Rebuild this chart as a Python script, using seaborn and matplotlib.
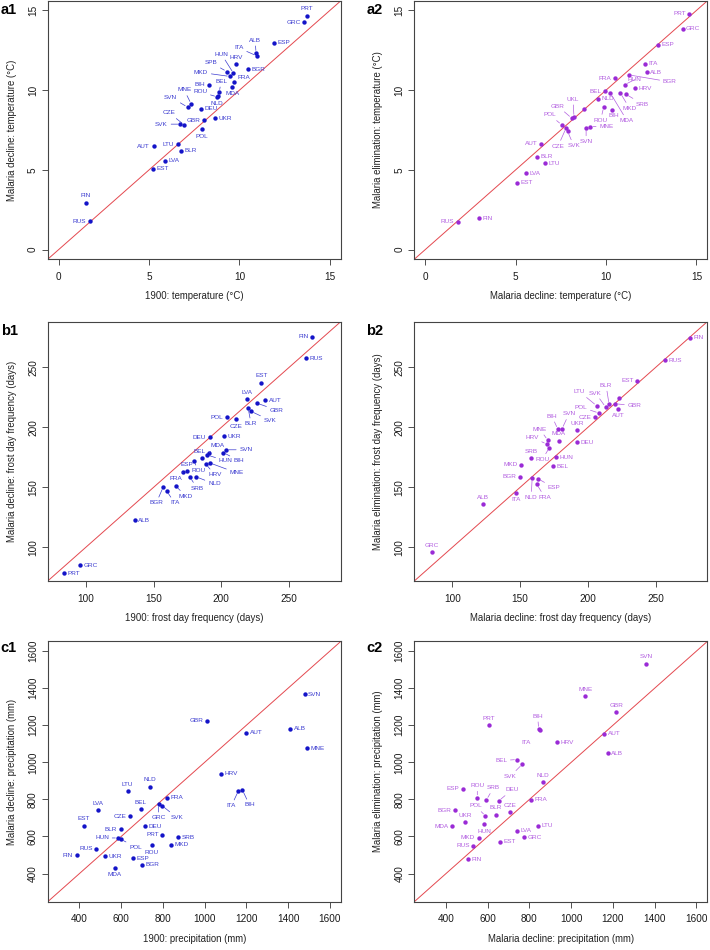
import numpy as np
import pandas as pd
import matplotlib
matplotlib.use("Agg")
import matplotlib.pyplot as plt
import seaborn as sns

# ---------------- data ----------------
# a1: 1900 vs malaria decline, temperature (°C)
a1_codes = ["PRT", "GRC", "ALB", "ITA", "ESP", "HRV", "BGR", "SPB", "HUN", "MKD", "FRA",
            "MDA", "BIH", "BEL", "ROU", "NLD", "MNE", "SVN", "DEU", "CZE", "SVK", "GBR",
            "UKR", "POL", "LTU", "AUT", "BLR", "LVA", "EST", "FIN", "RUS"]
a1_x = [13.72, 13.57, 10.92, 10.96, 11.90, 9.80, 10.46, 9.30, 9.67, 9.48, 9.70,
        9.61, 8.31, 8.88, 8.77, 8.82, 7.33, 7.13, 7.86, 6.94, 6.74, 8.05,
        8.66, 7.94, 6.59, 5.25, 6.78, 5.86, 5.21, 1.51, 1.73]
a1_y = [14.66, 14.26, 12.32, 12.15, 12.96, 11.63, 11.32, 11.17, 11.06, 10.86, 10.50,
        10.21, 10.35, 9.87, 9.58, 9.62, 9.14, 8.94, 8.85, 7.83, 7.87, 8.10,
        8.23, 7.56, 6.62, 6.47, 6.20, 5.57, 5.07, 2.94, 1.77]

# a2: malaria decline vs malaria elimination, temperature (°C)
a2_codes = ["PRT", "GRC", "ESP", "ITA", "ALB", "BGR", "HUN", "FRA", "HRV", "BEL", "MDA",
            "NLD", "MKD", "SRB", "ROU", "BIH", "DEU", "UKL", "GBR", "POL", "CZE", "SVK",
            "SVN", "MNE", "AUT", "BLR", "LTU", "LVA", "EST", "FIN", "RUS"]
a2_x = [14.60, 14.23, 12.90, 12.15, 12.26, 11.26, 11.04, 10.47, 11.62, 9.93, 10.22,
        9.58, 10.80, 11.09, 9.87, 10.35, 8.81, 8.23, 8.10, 7.55, 7.79, 7.88,
        8.90, 9.14, 6.42, 6.19, 6.64, 5.58, 5.09, 2.96, 1.79]
a2_y = [14.78, 13.86, 12.84, 11.65, 11.13, 10.96, 10.35, 10.75, 10.13, 9.92, 9.85,
        9.46, 9.81, 9.75, 8.94, 8.77, 8.83, 8.31, 8.25, 7.83, 7.62, 7.41,
        7.66, 7.72, 6.64, 5.82, 5.43, 4.78, 4.20, 1.96, 1.75]

# b1: 1900 vs malaria decline, frost day frequency (days)
b1_codes = ["FIN", "RUS", "EST", "LVA", "AUT", "GBR", "BLR", "SVK", "POL", "CZE", "DEU",
            "UKR", "MDA", "SVN", "BIH", "HUN", "BEL", "ROU", "ESP", "FRA", "HRV", "MNE",
            "NLD", "SRB", "MKD", "BGR", "ITA", "ALB", "GRC", "PRT"]
b1_x = [267.1, 262.2, 229.5, 218.9, 232.2, 226.0, 219.7, 221.9, 204.2, 210.8, 191.4,
        202.2, 191.0, 203.4, 201.5, 189.2, 185.5, 179.9, 174.4, 171.5, 188.5, 191.4,
        181.6, 176.9, 166.6, 157.2, 159.7, 136.1, 95.8, 84.3]
b1_y = [275.6, 257.5, 237.2, 223.3, 222.7, 220.2, 216.3, 213.3, 208.3, 206.9, 191.8,
        192.4, 179.0, 181.3, 179.0, 177.1, 174.3, 172.1, 163.5, 162.6, 169.6, 170.4,
        158.7, 158.5, 150.9, 150.4, 147.0, 122.8, 85.3, 78.6]

# b2: malaria decline vs malaria elimination, frost day frequency (days)
b2_codes = ["FIN", "RUS", "EST", "LVA", "GBR", "AUT", "BLR", "SVK", "LTU", "POL", "CZE",
            "BIH", "SVN", "UKR", "MNE", "MDA", "HRV", "ROU", "DEU", "SRB", "HUN", "BEL",
            "MKD", "BGR", "NLD", "ESP", "FRA", "ITA", "ALB", "GRC"]
b2_x = [275.1, 257.0, 236.4, 223.0, 219.6, 222.5, 215.6, 213.0, 206.4, 208.1, 205.4,
        177.8, 180.9, 191.9, 170.4, 178.5, 169.7, 171.6, 191.7, 158.2, 176.5, 174.1,
        150.9, 150.1, 158.9, 163.3, 162.3, 146.9, 122.7, 84.8]
b2_y = [274.5, 255.9, 238.9, 224.1, 219.7, 215.5, 219.1, 216.9, 218.0, 211.9, 208.3,
        198.5, 198.8, 197.4, 189.3, 188.8, 186.0, 183.2, 187.4, 174.3, 174.9, 167.6,
        168.7, 159.0, 157.6, 157.1, 152.6, 145.4, 135.9, 95.8]

# c1: 1900 vs malaria decline, precipitation (mm)
c1_codes = ["SVN", "GBR", "AUT", "ALB", "MNE", "HRV", "ITA", "BIH", "NLD", "LTU", "FRA",
            "GRC", "SVK", "BEL", "LVA", "CZE", "EST", "DEU", "BLR", "PRT", "SRB", "HUN",
            "POL", "ROU", "MKD", "RUS", "FIN", "UKR", "ESP", "BGR", "MDA"]
c1_x = [1479, 1013, 1199, 1409, 1490, 1080, 1162, 1181, 739, 631, 820,
        779, 795, 693, 489, 642, 422, 712, 597, 798, 873, 585,
        597, 747, 841, 480, 387, 523, 656, 698, 569]
c1_y = [1368, 1224, 1160, 1180, 1075, 938, 847, 851, 869, 845, 809,
        776, 767, 746, 742, 708, 659, 655, 639, 610, 597, 592,
        586, 554, 556, 534, 500, 494, 483, 447, 431]

# c2: malaria decline vs malaria elimination, precipitation (mm)
c2_codes = ["SVN", "MNE", "GBR", "PRT", "BIH", "ITA", "AUT", "HRV", "ALB", "BEL", "SVK",
            "NLD", "ESP", "ROU", "SRB", "DEU", "FRA", "BGR", "CZE", "POL", "BLR", "UKR",
            "MDA", "HUN", "LTU", "LVA", "GRC", "MKD", "EST", "RUS", "FIN"]
c2_x = [1360, 1068, 1215, 607, 844, 848, 1158, 932, 1174, 741, 765,
        866, 481, 550, 594, 653, 807, 444, 708, 589, 640, 492,
        428, 583, 842, 739, 776, 556, 657, 531, 504]
c2_y = [1531, 1356, 1271, 1201, 1179, 1176, 1155, 1108, 1049, 1015, 989,
        893, 857, 810, 798, 792, 798, 742, 731, 711, 718, 677,
        655, 667, 657, 631, 595, 593, 572, 550, 478]

# label spots: "R" right, "L" left, "A" above, "B" below, "-" none,
# or (dx, dy, leader line) offset in pixels
a1_spots = {"PRT": "A", "GRC": "L", "ALB": (-1, 13, True), "ITA": (-18, 8, True), "HRV": "A",
            "HUN": (-12, 19, True), "SPB": (-16, 9, True), "MKD": (-29, 4, True),
            "FRA": (10, 5, False), "MDA": "B", "BIH": "L", "BEL": (2, 11, True),
            "ROU": (-17, 5, True), "NLD": (-1, -7, False), "MNE": (-7, 14, True),
            "SVN": (-17, 10, True), "CZE": (-15, 12, True), "SVK": (-19, 0, True),
            "GBR": "L", "POL": "B", "LTU": "L", "AUT": "L", "FIN": "A", "RUS": "L"}
a2_spots = {"PRT": "L", "BGR": (41, -7, True), "HUN": (10, 5, True), "FRA": "L", "BEL": "L",
            "MDA": (17, -28, True), "MKD": (9, -15, True), "SRB": (17, -10, True),
            "ROU": (-3, -13, True), "BIH": (1, -6, False), "DEU": "-", "UKL": (-1, 18, True),
            "GBR": (-14, 12, True), "POL": (-12, 10, True), "CZE": (-8, -18, True),
            "SVK": (6, -14, True), "SVN": (0, -14, True), "MNE": (16, 0, True),
            "AUT": "L", "RUS": "L"}
b1_spots = {"FIN": "L", "EST": "A", "LVA": "A", "GBR": (20, -7, True), "BLR": (3, -16, True),
            "SVK": (19, -9, True), "POL": "L", "CZE": "B", "DEU": "L", "MDA": (8, 7, True),
            "SVN": (20, 0, True), "BIH": (15, -8, True), "HUN": (19, -6, True),
            "BEL": (-2, 7, False), "ESP": "A", "ROU": (4, -10, True), "HRV": (9, -11, True),
            "MNE": (27, -10, True), "FRA": (-7, -6, True), "NLD": (18, -7, True),
            "SRB": (7, -11, True), "MKD": (10, -10, True), "BGR": (-7, -16, True),
            "ITA": (8, -12, True)}
b2_spots = {"EST": "L", "LVA": "-", "LTU": (-17, 14, True), "SVK": (-10, 14, True),
            "BLR": (-3, 19, True), "POL": (-18, 6, True), "CZE": "L", "GBR": (20, -2, True),
            "AUT": "B", "BIH": (-6, 13, True), "SVN": (7, 15, True), "UKR": "A",
            "MNE": (-8, 11, True), "MDA": "A", "HRV": (-15, 7, True), "ROU": (-7, -12, True),
            "SRB": "A", "MKD": "L", "BGR": "L", "NLD": (-1, -19, True), "ESP": (16, -9, True),
            "FRA": (8, -13, True), "ITA": "B", "ALB": "A", "GRC": "A"}
c1_spots = {"GBR": "L", "ITA": (-7, -15, True), "BIH": (7, -15, True), "NLD": "A", "LTU": "A",
            "GRC": (0, -14, True), "SVK": (15, -12, True), "BEL": "A", "LVA": "A", "CZE": "L",
            "EST": "A", "BLR": "L", "PRT": "L", "HUN": (-16, 0, True), "POL": (15, -8, True),
            "ROU": "B", "RUS": "L", "FIN": "L", "MDA": "B"}
c2_spots = {"SVN": "A", "MNE": "A", "GBR": "A", "PRT": "A", "BIH": (-1, 13, True),
            "ITA": (-13, -13, False), "BEL": (-16, -1, True), "SVK": (-12, -12, True),
            "NLD": "A", "ESP": "L", "ROU": (0, 12, True), "SRB": (7, 12, True),
            "DEU": (13, 11, True), "BGR": "L", "CZE": "A", "POL": (-10, 10, True), "BLR": "A",
            "UKR": "A", "MDA": "L", "HUN": "B", "MKD": "L", "RUS": "L"}

temp_ticks = [0, 5, 10, 15]
frost_ticks = [100, 150, 200, 250]
prec_ticks = [400, 600, 800, 1000, 1200, 1400, 1600]

# ---------------- styling ----------------
sns.set_style("ticks")
plt.rcParams["font.family"] = ["Liberation Sans", "DejaVu Sans"]

BLUE_PT, BLUE_TX = "#1414c8", "#3c3cd0"
PURP_PT, PURP_TX = "#9a2bd6", "#b25ee0"
RED = "#e4484f"
PX = 0.72  # one pixel in points at dpi 100


def place_labels(ax, codes, xs, ys, spots, color):
    for code, x, y in zip(codes, xs, ys):
        spot = spots.get(code, "R")
        if spot == "-":
            continue
        line = False
        if spot == "R":
            dx, dy, ha = 3.5, 0, "left"
        elif spot == "L":
            dx, dy, ha = -3.5, 0, "right"
        elif spot == "A":
            dx, dy, ha = 0, 7, "center"
        elif spot == "B":
            dx, dy, ha = 0, -7, "center"
        else:
            dx, dy, line = spot
            ha = "center"
        arrow = dict(arrowstyle="-", color=color, lw=0.5, shrinkA=0, shrinkB=2) if line else None
        ax.annotate(code, (x, y), xytext=(dx * PX, dy * PX), textcoords="offset points",
                    ha=ha, va="center", fontsize=4.6, color=color, arrowprops=arrow,
                    zorder=4)


def panel(ax, codes, xs, ys, spots, lim, ticks, xlabel, ylabel, pcol, tcol):
    df = pd.DataFrame({"code": codes, "x": xs, "y": ys})
    ax.axline((lim[0], lim[0]), slope=1, color=RED, lw=0.7, zorder=1)
    sns.scatterplot(data=df, x="x", y="y", ax=ax, color=pcol, s=10, linewidth=0, zorder=3)
    place_labels(ax, codes, xs, ys, spots, tcol)
    ax.set_xlim(lim)
    ax.set_ylim(lim)
    ax.set_xticks(ticks)
    ax.set_yticks(ticks)
    ax.set_xticklabels([str(t) for t in ticks])
    ax.set_yticklabels([str(t) for t in ticks], rotation=90, va="center")
    ax.tick_params(axis="both", length=4, width=0.6, color="#333333",
                   labelsize=7.2, labelcolor="#1a1a1a")
    ax.tick_params(axis="x", pad=5)
    ax.tick_params(axis="y", pad=3)
    ax.set_xlabel(xlabel, fontsize=6.9, color="#222222", labelpad=7)
    ax.set_ylabel(ylabel, fontsize=6.9, color="#222222", labelpad=8)
    for sp in ax.spines.values():
        sp.set_visible(True)
        sp.set_color("#444444")
        sp.set_linewidth(0.8)


fig = plt.figure(figsize=(7.1, 9.5), dpi=100)
lefts = [0.0672, 0.5835]
rows = [(0.7271, 0.272), (0.3884, 0.273), (0.0508, 0.274)]
w = 0.4127

temp_lim = (-0.6, 15.6)
frost_lim = (72, 288)
prec_lim = (248, 1652)

ax = fig.add_axes([lefts[0], rows[0][0], w, rows[0][1]])
panel(ax, a1_codes, a1_x, a1_y, a1_spots, temp_lim, temp_ticks,
      "1900: temperature (°C)", "Malaria decline: temperature (°C)", BLUE_PT, BLUE_TX)
ax = fig.add_axes([lefts[1], rows[0][0], w, rows[0][1]])
panel(ax, a2_codes, a2_x, a2_y, a2_spots, temp_lim, temp_ticks,
      "Malaria decline: temperature (°C)", "Malaria elimination: temperature (°C)", PURP_PT, PURP_TX)
ax = fig.add_axes([lefts[0], rows[1][0], w, rows[1][1]])
panel(ax, b1_codes, b1_x, b1_y, b1_spots, frost_lim, frost_ticks,
      "1900: frost day frequency (days)", "Malaria decline: frost day frequency (days)", BLUE_PT, BLUE_TX)
ax = fig.add_axes([lefts[1], rows[1][0], w, rows[1][1]])
panel(ax, b2_codes, b2_x, b2_y, b2_spots, frost_lim, frost_ticks,
      "Malaria decline: frost day frequency (days)", "Malaria elimination: frost day frequency (days)",
      PURP_PT, PURP_TX)
ax = fig.add_axes([lefts[0], rows[2][0], w, rows[2][1]])
panel(ax, c1_codes, c1_x, c1_y, c1_spots, prec_lim, prec_ticks,
      "1900: precipitation (mm)", "Malaria decline: precipitation (mm)", BLUE_PT, BLUE_TX)
ax = fig.add_axes([lefts[1], rows[2][0], w, rows[2][1]])
panel(ax, c2_codes, c2_x, c2_y, c2_spots, prec_lim, prec_ticks,
      "Malaria decline: precipitation (mm)", "Malaria elimination: precipitation (mm)", PURP_PT, PURP_TX)

tags = [("a1", 0.001, 0.989), ("a2", 0.516, 0.989),
        ("b1", 0.001, 0.652), ("b2", 0.516, 0.652),
        ("c1", 0.001, 0.318), ("c2", 0.516, 0.318)]
for tag, tx, ty in tags:
    fig.text(tx, ty, tag, fontsize=10.5, fontweight="bold", ha="left", va="center", color="black")

fig.savefig("out.png", dpi=100)
